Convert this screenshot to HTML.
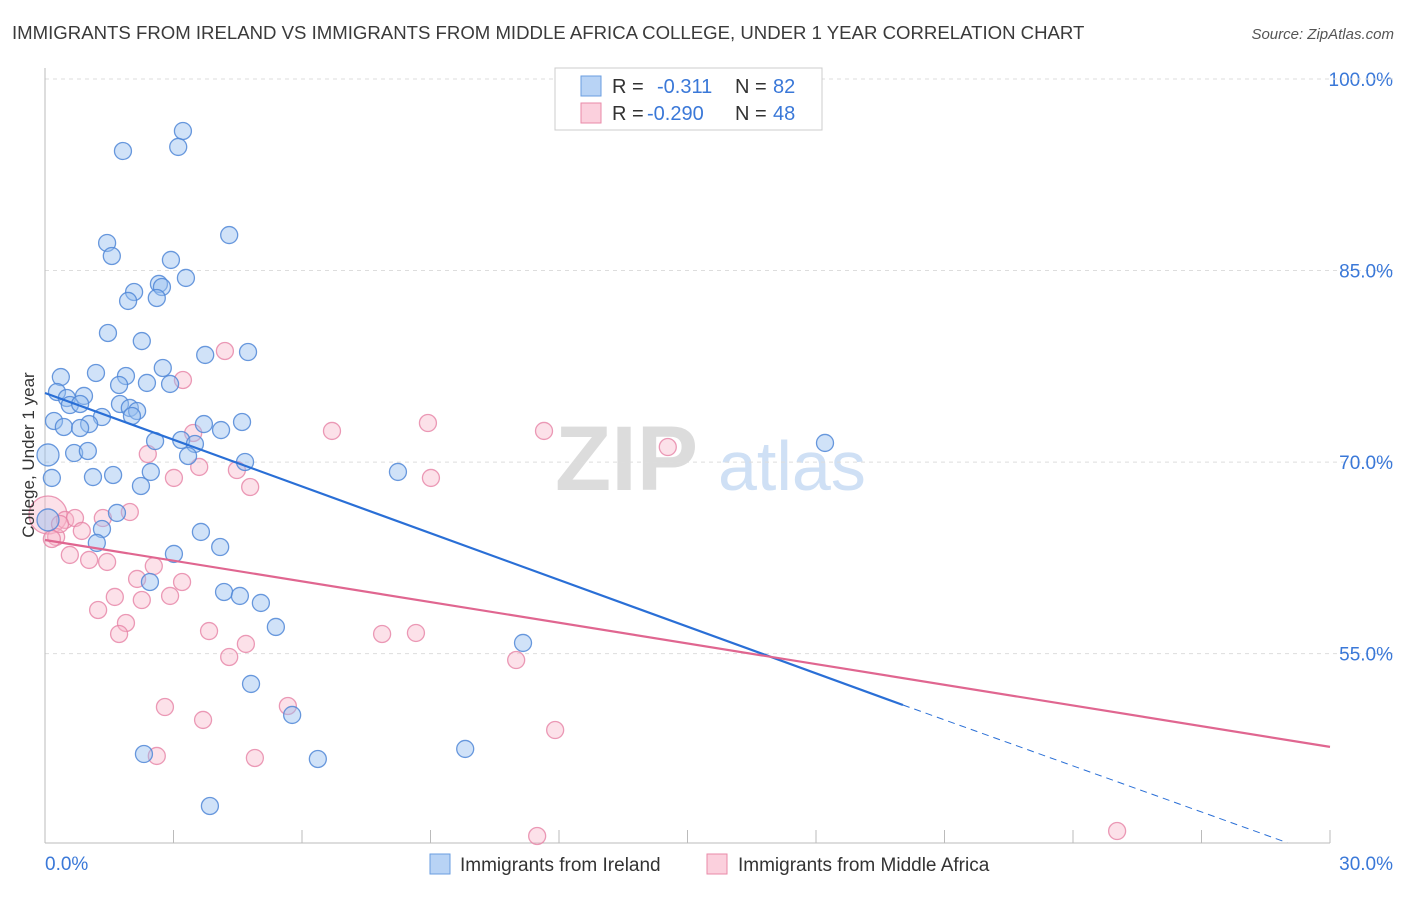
<!DOCTYPE html>
<html><head><meta charset="utf-8">
<style>
body{margin:0;background:#fff;font-family:"Liberation Sans",sans-serif;}
svg text{font-family:"Liberation Sans",sans-serif;}
</style></head>
<body>
<svg id="chart" width="1406" height="892" xmlns="http://www.w3.org/2000/svg">
<text x="12" y="39" font-size="18.6" fill="#3a3a3a">IMMIGRANTS FROM IRELAND VS IMMIGRANTS FROM MIDDLE AFRICA COLLEGE, UNDER 1 YEAR CORRELATION CHART</text>
<text x="1394" y="39" font-size="15" fill="#555" text-anchor="end" font-style="italic">Source: ZipAtlas.com</text>
<g>
<text x="555" y="490" font-size="92" fill="#dcdcdc" font-family="Liberation Serif" font-weight="bold">ZIP</text>
<text x="718" y="490" font-size="70" fill="#cfe0f5">atlas</text>
</g>
<g id="grid"></g>
<g id="axes"></g>
<g id="marks"></g>
<text transform="translate(34,455) rotate(-90)" font-size="17" fill="#333" text-anchor="middle">College, Under 1 year</text>
<g>
<rect x="555" y="68" width="267" height="62" fill="#fff" stroke="#ccc"/>
<rect x="581" y="76" width="20" height="20" fill="#b8d3f5" stroke="#6a9ee0"/>
<rect x="581" y="103" width="20" height="20" fill="#fbd0dd" stroke="#e98aa8"/>
<text x="612" y="93" font-size="20" fill="#333">R = </text><text x="657" y="93" font-size="20" fill="#3a78d8">-0.311</text>
<text x="735" y="93" font-size="20" fill="#333">N = </text><text x="773" y="93" font-size="20" fill="#3a78d8">82</text>
<text x="612" y="120" font-size="20" fill="#333">R = </text><text x="647" y="120" font-size="20" fill="#3a78d8">-0.290</text>
<text x="735" y="120" font-size="20" fill="#333">N = </text><text x="773" y="120" font-size="20" fill="#3a78d8">48</text>
</g>
<g>
<rect x="430" y="854" width="20" height="20" fill="#b8d3f5" stroke="#6a9ee0"/>
<text x="460" y="871" font-size="19" fill="#333">Immigrants from Ireland</text>
<rect x="707" y="854" width="20" height="20" fill="#fbd0dd" stroke="#e98aa8"/>
<text x="738" y="871" font-size="19" fill="#333">Immigrants from Middle Africa</text>
</g>
</svg>
<script>
const blueX=[1.82,3.22,3.11,1.45,1.56,4.30,2.94,3.29,2.66,2.73,2.08,1.94,2.61,1.47,2.26,3.74,4.74,2.75,0.37,1.19,1.89,1.73,2.38,2.92,0.28,0.91,0.51,0.58,0.82,1.75,1.98,2.15,1.33,2.03,0.21,0.44,1.03,0.82,3.71,4.60,4.11,2.57,3.18,3.50,0.07,0.68,1.00,3.34,4.67,8.24,18.21,0.16,1.12,1.59,2.47,2.24,1.68,1.33,3.64,1.21,4.09,3.01,2.45,4.18,4.55,5.04,5.39,11.16,4.81,5.77,2.31,9.81,6.37,3.85,0.07];
const blueY=[94.36,95.93,94.68,87.16,86.14,87.78,85.83,84.42,83.95,83.71,83.32,82.62,82.85,80.11,79.48,78.39,78.62,77.37,76.66,76.98,76.74,76.04,76.20,76.12,75.49,75.18,75.02,74.47,74.55,74.55,74.24,74.00,73.53,73.61,73.22,72.75,72.98,72.67,72.98,73.14,72.51,71.65,71.73,71.42,70.56,70.71,70.87,70.48,70.01,69.23,71.50,68.76,68.83,68.99,69.23,68.13,66.02,64.76,64.53,63.67,63.35,62.81,60.61,59.83,59.52,58.97,57.09,55.84,52.63,50.20,47.14,47.54,46.75,43.07,65.47];
const pinkX=[0.07,0.47,0.70,1.35,1.98,0.26,0.86,0.16,0.58,1.03,1.45,4.20,3.22,3.46,2.40,3.60,3.01,4.48,4.79,6.70,8.94,11.65,14.54,9.01,2.15,2.54,3.20,1.63,2.26,2.92,1.24,1.89,1.73,3.83,4.69,4.30,7.87,8.66,11.00,2.80,3.69,5.67,11.91,2.61,4.90,11.49,25.03,0.35];
const pinkY=[65.86,65.47,65.62,65.62,66.09,64.14,64.61,63.98,62.73,62.34,62.18,78.70,76.43,72.28,70.63,69.62,68.76,69.38,68.05,72.44,73.06,72.44,71.18,68.76,60.85,61.86,60.61,59.44,59.20,59.52,58.42,57.40,56.54,56.77,55.76,54.74,56.54,56.62,54.50,50.82,49.81,50.90,49.02,46.99,46.83,40.72,41.11,65.15];
const blueTrend=[[0,75.41],[20.03,50.98],[29.0,40.2]];
const pinkTrend=[[0,63.9],[30,47.7]];
const yTicks=[100,85,70,55];
const yTickLabels=["100.0%","85.0%","70.0%","55.0%"];
const xTicks=[0,3,6,9,12,15,18,21,24,27,30];

const NS="http://www.w3.org/2000/svg";
const xs=v=>45+v/30*1285;
const ys=v=>79+(100-v)*12.77;
function mk(tag,attrs,parent){const e=document.createElementNS(NS,tag);for(const k in attrs)e.setAttribute(k,attrs[k]);document.getElementById(parent).appendChild(e);return e;}

yTicks.forEach((t,i)=>{
  const g=mk('line',{x1:45,x2:1393,y1:ys(t),y2:ys(t),stroke:'#ddd','stroke-dasharray':'4,4'},'grid');
  
  
  const l=mk('text',{x:1393,y:ys(t)+7,'font-size':19,fill:'#3a78d8','text-anchor':'end'},'grid');
  l.textContent=yTickLabels[i];
  
  
});
const topGrid=mk('line',{x1:45,x2:1393,y1:79,y2:79,stroke:'#ddd','stroke-dasharray':'4,4'},'grid');


const ya=mk('line',{x1:45,x2:45,y1:68,y2:843,stroke:'#bbb'},'axes');


const xa=mk('line',{x1:45,x2:1330,y1:843,y2:843,stroke:'#bbb'},'axes');


xTicks.forEach(t=>{
  const tk=mk('line',{x1:xs(t),x2:xs(t),y1:830,y2:843,stroke:'#bbb'},'axes');
  
  
});
const xl0=mk('text',{x:45,y:870,'font-size':19,fill:'#3a78d8'},'axes');xl0.textContent='0.0%';


const xl1=mk('text',{x:1393,y:870,'font-size':19,fill:'#3a78d8','text-anchor':'end'},'axes');xl1.textContent='30.0%';



function dot(x,y,r,fill,stroke,name){
  const c=mk('circle',{cx:xs(x),cy:ys(y),r:r,fill:fill,stroke:stroke,'stroke-width':1.3},'marks');
  
  
}
pinkX.forEach((x,i)=>dot(x,pinkY[i],i===0?19:8.5,'rgba(248,180,200,0.4)','rgba(230,130,165,0.8)','pink-point'));
blueX.forEach((x,i)=>dot(x,blueY[i],(i===74||i===44)?11:8.5,'rgba(150,190,240,0.45)','rgba(80,135,215,0.85)','blue-point'));

const bl=mk('line',{x1:xs(blueTrend[0][0]),y1:ys(blueTrend[0][1]),x2:xs(blueTrend[1][0]),y2:ys(blueTrend[1][1]),stroke:'#2a6fd6','stroke-width':2.2},'marks');


const bd=mk('line',{x1:xs(blueTrend[1][0]),y1:ys(blueTrend[1][1]),x2:xs(blueTrend[2][0]),y2:ys(blueTrend[2][1]),stroke:'#2a6fd6','stroke-width':1,'stroke-dasharray':'7,5'},'marks');


const pl=mk('line',{x1:xs(pinkTrend[0][0]),y1:ys(pinkTrend[0][1]),x2:xs(pinkTrend[1][0]),y2:ys(pinkTrend[1][1]),stroke:'#e06690','stroke-width':2.2},'marks');


</script>
</body></html>
